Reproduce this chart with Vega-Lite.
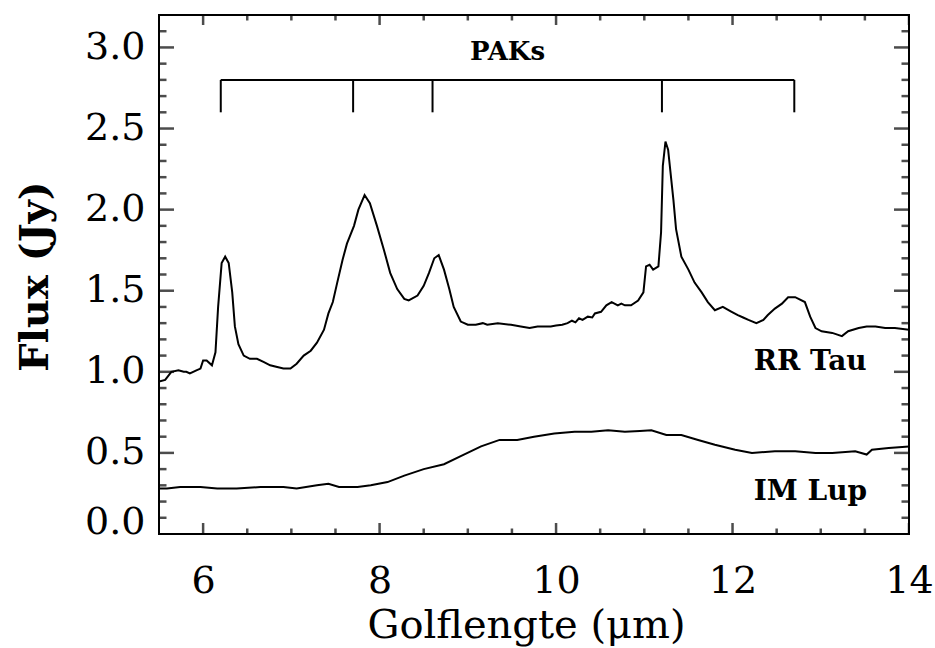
{
  "$schema": "https://vega.github.io/schema/vega-lite/v6.json",
  "autosize": "none",
  "padding": {"left": 159, "top": 15, "right": 26, "bottom": 114},
  "width": 750,
  "height": 519,
  "background": "white",
  "config": {
    "view": {"stroke": "black", "strokeWidth": 2},
    "axis": {"grid": false, "domain": false, "ticks": false, "labelColor": "black", "titleColor": "black"}
  },
  "datasets": {
    "spec": [
      {"star": "RR Tau", "wl": 5.5, "flux": 0.94},
      {"star": "RR Tau", "wl": 5.57, "flux": 0.95},
      {"star": "RR Tau", "wl": 5.64, "flux": 1.0},
      {"star": "RR Tau", "wl": 5.72, "flux": 1.01},
      {"star": "RR Tau", "wl": 5.78, "flux": 1.0},
      {"star": "RR Tau", "wl": 5.81, "flux": 1.0},
      {"star": "RR Tau", "wl": 5.85, "flux": 0.99},
      {"star": "RR Tau", "wl": 5.93, "flux": 1.01},
      {"star": "RR Tau", "wl": 5.97, "flux": 1.02},
      {"star": "RR Tau", "wl": 6.0, "flux": 1.07},
      {"star": "RR Tau", "wl": 6.04, "flux": 1.07},
      {"star": "RR Tau", "wl": 6.1, "flux": 1.04},
      {"star": "RR Tau", "wl": 6.14, "flux": 1.12},
      {"star": "RR Tau", "wl": 6.17, "flux": 1.4},
      {"star": "RR Tau", "wl": 6.21, "flux": 1.67},
      {"star": "RR Tau", "wl": 6.25, "flux": 1.71},
      {"star": "RR Tau", "wl": 6.29, "flux": 1.67},
      {"star": "RR Tau", "wl": 6.33, "flux": 1.49},
      {"star": "RR Tau", "wl": 6.36, "flux": 1.28},
      {"star": "RR Tau", "wl": 6.4, "flux": 1.17},
      {"star": "RR Tau", "wl": 6.46, "flux": 1.1},
      {"star": "RR Tau", "wl": 6.53, "flux": 1.08},
      {"star": "RR Tau", "wl": 6.61, "flux": 1.08},
      {"star": "RR Tau", "wl": 6.69, "flux": 1.06},
      {"star": "RR Tau", "wl": 6.76, "flux": 1.04},
      {"star": "RR Tau", "wl": 6.84, "flux": 1.03},
      {"star": "RR Tau", "wl": 6.91, "flux": 1.02},
      {"star": "RR Tau", "wl": 6.99, "flux": 1.02},
      {"star": "RR Tau", "wl": 7.06, "flux": 1.05},
      {"star": "RR Tau", "wl": 7.14, "flux": 1.1},
      {"star": "RR Tau", "wl": 7.22, "flux": 1.13},
      {"star": "RR Tau", "wl": 7.29, "flux": 1.18},
      {"star": "RR Tau", "wl": 7.37, "flux": 1.26},
      {"star": "RR Tau", "wl": 7.42, "flux": 1.36},
      {"star": "RR Tau", "wl": 7.47, "flux": 1.43},
      {"star": "RR Tau", "wl": 7.52, "flux": 1.55},
      {"star": "RR Tau", "wl": 7.58, "flux": 1.69},
      {"star": "RR Tau", "wl": 7.63, "flux": 1.79},
      {"star": "RR Tau", "wl": 7.71, "flux": 1.9},
      {"star": "RR Tau", "wl": 7.76, "flux": 2.0},
      {"star": "RR Tau", "wl": 7.83, "flux": 2.09},
      {"star": "RR Tau", "wl": 7.89, "flux": 2.04},
      {"star": "RR Tau", "wl": 7.97, "flux": 1.9},
      {"star": "RR Tau", "wl": 8.05, "flux": 1.75},
      {"star": "RR Tau", "wl": 8.12, "flux": 1.61},
      {"star": "RR Tau", "wl": 8.2, "flux": 1.51},
      {"star": "RR Tau", "wl": 8.28, "flux": 1.45},
      {"star": "RR Tau", "wl": 8.33, "flux": 1.44},
      {"star": "RR Tau", "wl": 8.43, "flux": 1.47},
      {"star": "RR Tau", "wl": 8.5, "flux": 1.53},
      {"star": "RR Tau", "wl": 8.56, "flux": 1.61},
      {"star": "RR Tau", "wl": 8.62, "flux": 1.7},
      {"star": "RR Tau", "wl": 8.67, "flux": 1.72},
      {"star": "RR Tau", "wl": 8.73, "flux": 1.63},
      {"star": "RR Tau", "wl": 8.79, "flux": 1.51},
      {"star": "RR Tau", "wl": 8.84, "flux": 1.4},
      {"star": "RR Tau", "wl": 8.92, "flux": 1.31},
      {"star": "RR Tau", "wl": 9.0, "flux": 1.29},
      {"star": "RR Tau", "wl": 9.09, "flux": 1.29},
      {"star": "RR Tau", "wl": 9.17, "flux": 1.3},
      {"star": "RR Tau", "wl": 9.22, "flux": 1.29},
      {"star": "RR Tau", "wl": 9.34, "flux": 1.3},
      {"star": "RR Tau", "wl": 9.49, "flux": 1.29},
      {"star": "RR Tau", "wl": 9.6, "flux": 1.28},
      {"star": "RR Tau", "wl": 9.7, "flux": 1.27},
      {"star": "RR Tau", "wl": 9.79, "flux": 1.28},
      {"star": "RR Tau", "wl": 9.94, "flux": 1.28},
      {"star": "RR Tau", "wl": 10.0, "flux": 1.285},
      {"star": "RR Tau", "wl": 10.07, "flux": 1.29},
      {"star": "RR Tau", "wl": 10.13, "flux": 1.3},
      {"star": "RR Tau", "wl": 10.18, "flux": 1.315},
      {"star": "RR Tau", "wl": 10.22, "flux": 1.305},
      {"star": "RR Tau", "wl": 10.26, "flux": 1.33},
      {"star": "RR Tau", "wl": 10.3, "flux": 1.32},
      {"star": "RR Tau", "wl": 10.36, "flux": 1.34},
      {"star": "RR Tau", "wl": 10.41, "flux": 1.335},
      {"star": "RR Tau", "wl": 10.44, "flux": 1.36},
      {"star": "RR Tau", "wl": 10.51, "flux": 1.37},
      {"star": "RR Tau", "wl": 10.57, "flux": 1.41},
      {"star": "RR Tau", "wl": 10.63, "flux": 1.43},
      {"star": "RR Tau", "wl": 10.7, "flux": 1.41},
      {"star": "RR Tau", "wl": 10.74, "flux": 1.42},
      {"star": "RR Tau", "wl": 10.78, "flux": 1.41},
      {"star": "RR Tau", "wl": 10.85, "flux": 1.41},
      {"star": "RR Tau", "wl": 10.93, "flux": 1.44},
      {"star": "RR Tau", "wl": 10.99, "flux": 1.49},
      {"star": "RR Tau", "wl": 11.02, "flux": 1.65},
      {"star": "RR Tau", "wl": 11.06, "flux": 1.66},
      {"star": "RR Tau", "wl": 11.1, "flux": 1.63},
      {"star": "RR Tau", "wl": 11.16, "flux": 1.65},
      {"star": "RR Tau", "wl": 11.19, "flux": 1.86},
      {"star": "RR Tau", "wl": 11.21, "flux": 2.27},
      {"star": "RR Tau", "wl": 11.24, "flux": 2.42},
      {"star": "RR Tau", "wl": 11.27, "flux": 2.37},
      {"star": "RR Tau", "wl": 11.33, "flux": 2.06},
      {"star": "RR Tau", "wl": 11.36, "flux": 1.88},
      {"star": "RR Tau", "wl": 11.42, "flux": 1.71},
      {"star": "RR Tau", "wl": 11.5, "flux": 1.63},
      {"star": "RR Tau", "wl": 11.57, "flux": 1.55},
      {"star": "RR Tau", "wl": 11.65, "flux": 1.49},
      {"star": "RR Tau", "wl": 11.72, "flux": 1.43},
      {"star": "RR Tau", "wl": 11.8, "flux": 1.38},
      {"star": "RR Tau", "wl": 11.89, "flux": 1.4},
      {"star": "RR Tau", "wl": 11.94, "flux": 1.385},
      {"star": "RR Tau", "wl": 11.99, "flux": 1.37},
      {"star": "RR Tau", "wl": 12.06, "flux": 1.35},
      {"star": "RR Tau", "wl": 12.12, "flux": 1.335},
      {"star": "RR Tau", "wl": 12.18, "flux": 1.32},
      {"star": "RR Tau", "wl": 12.27, "flux": 1.3},
      {"star": "RR Tau", "wl": 12.35, "flux": 1.32},
      {"star": "RR Tau", "wl": 12.4, "flux": 1.35},
      {"star": "RR Tau", "wl": 12.48, "flux": 1.39},
      {"star": "RR Tau", "wl": 12.56, "flux": 1.42},
      {"star": "RR Tau", "wl": 12.63, "flux": 1.46},
      {"star": "RR Tau", "wl": 12.71, "flux": 1.46},
      {"star": "RR Tau", "wl": 12.82, "flux": 1.43},
      {"star": "RR Tau", "wl": 12.88, "flux": 1.34},
      {"star": "RR Tau", "wl": 12.94, "flux": 1.27},
      {"star": "RR Tau", "wl": 13.01, "flux": 1.25},
      {"star": "RR Tau", "wl": 13.13, "flux": 1.24},
      {"star": "RR Tau", "wl": 13.24, "flux": 1.22},
      {"star": "RR Tau", "wl": 13.31, "flux": 1.25},
      {"star": "RR Tau", "wl": 13.43, "flux": 1.27},
      {"star": "RR Tau", "wl": 13.52, "flux": 1.28},
      {"star": "RR Tau", "wl": 13.62, "flux": 1.28},
      {"star": "RR Tau", "wl": 13.73, "flux": 1.27},
      {"star": "RR Tau", "wl": 13.84, "flux": 1.27},
      {"star": "RR Tau", "wl": 14.0, "flux": 1.26},
      {"star": "IM Lup", "wl": 5.5, "flux": 0.28},
      {"star": "IM Lup", "wl": 5.59, "flux": 0.28},
      {"star": "IM Lup", "wl": 5.74, "flux": 0.29},
      {"star": "IM Lup", "wl": 5.97, "flux": 0.29},
      {"star": "IM Lup", "wl": 6.16, "flux": 0.28},
      {"star": "IM Lup", "wl": 6.38, "flux": 0.28},
      {"star": "IM Lup", "wl": 6.65, "flux": 0.29},
      {"star": "IM Lup", "wl": 6.91, "flux": 0.29},
      {"star": "IM Lup", "wl": 7.06, "flux": 0.28},
      {"star": "IM Lup", "wl": 7.29, "flux": 0.3},
      {"star": "IM Lup", "wl": 7.42, "flux": 0.31},
      {"star": "IM Lup", "wl": 7.54, "flux": 0.29},
      {"star": "IM Lup", "wl": 7.75, "flux": 0.29},
      {"star": "IM Lup", "wl": 7.9, "flux": 0.3},
      {"star": "IM Lup", "wl": 8.09, "flux": 0.32},
      {"star": "IM Lup", "wl": 8.28, "flux": 0.36},
      {"star": "IM Lup", "wl": 8.5, "flux": 0.4},
      {"star": "IM Lup", "wl": 8.73, "flux": 0.43},
      {"star": "IM Lup", "wl": 8.92, "flux": 0.48},
      {"star": "IM Lup", "wl": 9.15, "flux": 0.54},
      {"star": "IM Lup", "wl": 9.36, "flux": 0.58},
      {"star": "IM Lup", "wl": 9.56, "flux": 0.58},
      {"star": "IM Lup", "wl": 9.75, "flux": 0.6},
      {"star": "IM Lup", "wl": 9.98, "flux": 0.62},
      {"star": "IM Lup", "wl": 10.21, "flux": 0.63},
      {"star": "IM Lup", "wl": 10.4, "flux": 0.63},
      {"star": "IM Lup", "wl": 10.59, "flux": 0.64},
      {"star": "IM Lup", "wl": 10.78, "flux": 0.63},
      {"star": "IM Lup", "wl": 10.95, "flux": 0.635},
      {"star": "IM Lup", "wl": 11.08, "flux": 0.64},
      {"star": "IM Lup", "wl": 11.25, "flux": 0.61},
      {"star": "IM Lup", "wl": 11.42, "flux": 0.61},
      {"star": "IM Lup", "wl": 11.61, "flux": 0.58},
      {"star": "IM Lup", "wl": 11.8, "flux": 0.55},
      {"star": "IM Lup", "wl": 12.03, "flux": 0.52},
      {"star": "IM Lup", "wl": 12.22, "flux": 0.5},
      {"star": "IM Lup", "wl": 12.48, "flux": 0.51},
      {"star": "IM Lup", "wl": 12.71, "flux": 0.51},
      {"star": "IM Lup", "wl": 12.94, "flux": 0.5},
      {"star": "IM Lup", "wl": 13.13, "flux": 0.5},
      {"star": "IM Lup", "wl": 13.39, "flux": 0.51},
      {"star": "IM Lup", "wl": 13.52, "flux": 0.49},
      {"star": "IM Lup", "wl": 13.58, "flux": 0.52},
      {"star": "IM Lup", "wl": 13.77, "flux": 0.53},
      {"star": "IM Lup", "wl": 14.0, "flux": 0.54}
    ],
    "bracketlegs": [
      {"wl": 6.2, "lo": 2.6, "hi": 2.8},
      {"wl": 7.7, "lo": 2.6, "hi": 2.8},
      {"wl": 8.6, "lo": 2.6, "hi": 2.8},
      {"wl": 11.2, "lo": 2.6, "hi": 2.8},
      {"wl": 12.7, "lo": 2.6, "hi": 2.8}
    ],
    "bar": [{"from": 6.2, "to": 12.7, "level": 2.8}],
    "names": [
      {"wl": 12.24, "flux": 1.062, "label": "RR Tau"},
      {"wl": 12.24, "flux": 0.256, "label": "IM Lup"}
    ],
    "pak": [{"wl": 9.45, "flux": 2.97, "label": "PAKs"}],
    "xmaj": [{"v": 6}, {"v": 8}, {"v": 10}, {"v": 12}, {"v": 14}],
    "xmin": [{"v": 6.5}, {"v": 7}, {"v": 7.5}, {"v": 8.5}, {"v": 9}, {"v": 9.5}, {"v": 10.5}, {"v": 11}, {"v": 11.5}, {"v": 12.5}, {"v": 13}, {"v": 13.5}],
    "ymaj": [{"v": 0.5}, {"v": 1.0}, {"v": 1.5}, {"v": 2.0}, {"v": 2.5}, {"v": 3.0}],
    "ymin": [{"v": 0.1}, {"v": 0.2}, {"v": 0.3}, {"v": 0.4}, {"v": 0.6}, {"v": 0.7}, {"v": 0.8}, {"v": 0.9}, {"v": 1.1}, {"v": 1.2}, {"v": 1.3}, {"v": 1.4}, {"v": 1.6}, {"v": 1.7}, {"v": 1.8}, {"v": 1.9}, {"v": 2.1}, {"v": 2.2}, {"v": 2.3}, {"v": 2.4}, {"v": 2.6}, {"v": 2.7}, {"v": 2.8}, {"v": 2.9}, {"v": 3.1}]
  },
  "resolve": {"axis": {"x": "independent", "y": "independent"}},
  "layer": [
    {
      "data": {"name": "spec"},
      "mark": {"type": "line", "strokeWidth": 2, "color": "black", "clip": true},
      "encoding": {
        "x": {"field": "wl", "type": "quantitative", "scale": {"domain": [5.5, 14], "nice": false, "zero": false},
          "axis": {"orient": "bottom", "values": [6, 8, 10, 12, 14], "format": "d", "labelPadding": 28,
            "labelFont": "DejaVu Serif", "labelFontSize": 38, "labelFontWeight": "normal", "labelFlush": false, "labelOverlap": false,
            "title": "Golflengte (μm)", "titleFont": "DejaVu Serif", "titleFontSize": 40, "titleFontWeight": "normal",
            "titleX": 367, "titleY": 103, "titleBaseline": "alphabetic", "titleAlign": "center"}},
        "y": {"field": "flux", "type": "quantitative", "scale": {"domain": [0, 3.2], "nice": false, "zero": false},
          "axis": {"orient": "left", "values": [0, 0.5, 1, 1.5, 2, 2.5, 3], "format": ".1f", "labelPadding": 14,
            "labelFont": "DejaVu Serif", "labelFontSize": 38, "labelFlush": true, "labelFlushOffset": 7, "labelOverlap": false,
            "title": "Flux (Jy)", "titleFont": "DejaVu Serif", "titleFontSize": 40, "titleFontWeight": "bold",
            "titleX": -112, "titleY": 261, "titleAngle": -90, "titleBaseline": "alphabetic", "titleAlign": "center"}},
        "detail": {"field": "star"}
      }
    },
    {
      "data": {"name": "xmaj"},
      "mark": {"type": "tick", "orient": "vertical", "size": 22, "thickness": 2.5, "color": "#000000", "clip": true},
      "encoding": {"x": {"field": "v", "type": "quantitative", "axis": null}, "y": {"datum": 0, "axis": null}}
    },
    {
      "data": {"name": "xmaj"},
      "mark": {"type": "tick", "orient": "vertical", "size": 20, "thickness": 2.5, "color": "#000000", "clip": true},
      "encoding": {"x": {"field": "v", "type": "quantitative", "axis": null}, "y": {"datum": 3.2, "axis": null}}
    },
    {
      "data": {"name": "xmin"},
      "mark": {"type": "tick", "orient": "vertical", "size": 11, "thickness": 2.5, "color": "#000000", "clip": true},
      "encoding": {"x": {"field": "v", "type": "quantitative", "axis": null}, "y": {"datum": 0, "axis": null}}
    },
    {
      "data": {"name": "xmin"},
      "mark": {"type": "tick", "orient": "vertical", "size": 11, "thickness": 2.5, "color": "#000000", "clip": true},
      "encoding": {"x": {"field": "v", "type": "quantitative", "axis": null}, "y": {"datum": 3.2, "axis": null}}
    },
    {
      "data": {"name": "ymaj"},
      "mark": {"type": "tick", "orient": "horizontal", "size": 30, "thickness": 2.5, "color": "#000000", "clip": true},
      "encoding": {"y": {"field": "v", "type": "quantitative", "axis": null}, "x": {"datum": 5.5, "axis": null}}
    },
    {
      "data": {"name": "ymaj"},
      "mark": {"type": "tick", "orient": "horizontal", "size": 30, "thickness": 2.5, "color": "#000000", "clip": true},
      "encoding": {"y": {"field": "v", "type": "quantitative", "axis": null}, "x": {"datum": 14, "axis": null}}
    },
    {
      "data": {"name": "ymin"},
      "mark": {"type": "tick", "orient": "horizontal", "size": 15, "thickness": 2.5, "color": "#000000", "clip": true},
      "encoding": {"y": {"field": "v", "type": "quantitative", "axis": null}, "x": {"datum": 5.5, "axis": null}}
    },
    {
      "data": {"name": "ymin"},
      "mark": {"type": "tick", "orient": "horizontal", "size": 15, "thickness": 2.5, "color": "#000000", "clip": true},
      "encoding": {"y": {"field": "v", "type": "quantitative", "axis": null}, "x": {"datum": 14, "axis": null}}
    },
    {
      "data": {"name": "bracketlegs"},
      "mark": {"type": "rule", "strokeWidth": 2, "color": "black"},
      "encoding": {
        "x": {"field": "wl", "type": "quantitative", "axis": null},
        "y": {"field": "lo", "type": "quantitative", "axis": null},
        "y2": {"field": "hi"}
      }
    },
    {
      "data": {"name": "bar"},
      "mark": {"type": "rule", "strokeWidth": 2, "color": "black"},
      "encoding": {
        "x": {"field": "from", "type": "quantitative", "axis": null},
        "x2": {"field": "to"},
        "y": {"field": "level", "type": "quantitative", "axis": null}
      }
    },
    {
      "data": {"name": "names"},
      "mark": {"type": "text", "align": "left", "baseline": "middle", "font": "DejaVu Serif", "fontSize": 28, "fontWeight": "bold", "color": "black"},
      "encoding": {
        "x": {"field": "wl", "type": "quantitative", "axis": null},
        "y": {"field": "flux", "type": "quantitative", "axis": null},
        "text": {"field": "label"}
      }
    },
    {
      "data": {"name": "pak"},
      "mark": {"type": "text", "align": "center", "baseline": "middle", "font": "DejaVu Serif", "fontSize": 26, "fontWeight": "bold", "color": "black"},
      "encoding": {
        "x": {"field": "wl", "type": "quantitative", "axis": null},
        "y": {"field": "flux", "type": "quantitative", "axis": null},
        "text": {"field": "label"}
      }
    }
  ]
}
